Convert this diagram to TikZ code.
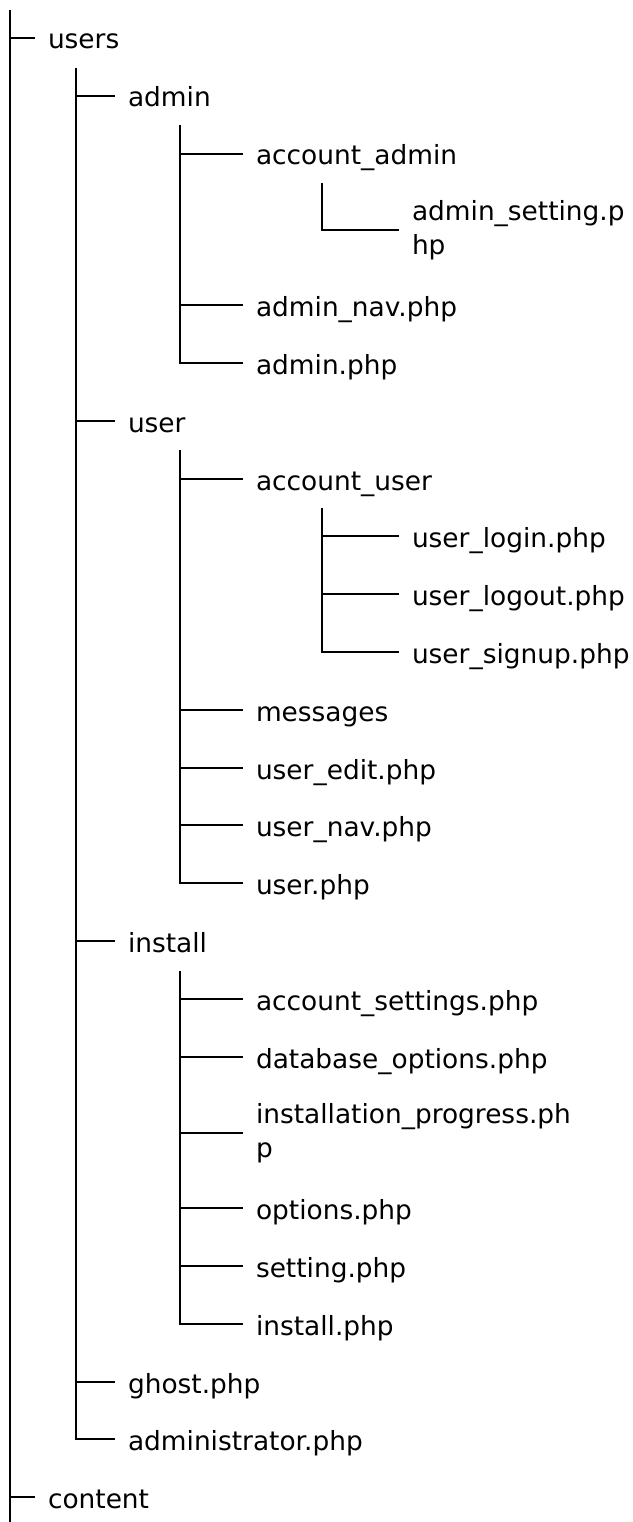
\documentclass[tikz,border=0pt]{standalone}
\usepackage{fontspec}
\setmainfont{DejaVu Sans}
\begin{document}
\begin{tikzpicture}[x=1pt,y=-1pt,
  every node/.style={font=\fontsize{26.4}{34}\selectfont},
  item/.style={anchor=west, inner sep=0pt, outer xsep=13pt, text height=28pt, text depth=6pt},
  twoline/.style={anchor=west, inner sep=0pt, outer xsep=13pt, align=left},
  branch/.style={draw=black, line width=2pt}]
\useasboundingbox (0,0) rectangle (632,1522);
% nodes
\node[item] (users) at (35,38) {users};
\node[item] (admin) at (115,96) {admin};
\node[item] (accadmin) at (243,154) {account\_admin};
\node[twoline] (adminset) at (399,230) {admin\_setting.p\\hp};
\node[item] (adminnav) at (243,305) {admin\_nav.php};
\node[item] (adminphp) at (243,363) {admin.php};
\node[item] (user) at (115,421) {user};
\node[item] (accuser) at (243,479) {account\_user};
\node[item] (login) at (399,536) {user\_login.php};
\node[item] (logout) at (399,594) {user\_logout.php};
\node[item] (signup) at (399,652) {user\_signup.php};
\node[item] (messages) at (243,710) {messages};
\node[item] (useredit) at (243,768) {user\_edit.php};
\node[item] (usernav) at (243,825) {user\_nav.php};
\node[item] (userphp) at (243,883) {user.php};
\node[item] (install) at (115,941) {install};
\node[item] (accset) at (243,999) {account\_settings.php};
\node[item] (dbopt) at (243,1057) {database\_options.php};
\node[twoline] (instprog) at (243,1133) {installation\_progress.ph\\p};
\node[item] (options) at (243,1208) {options.php};
\node[item] (setting) at (243,1266) {setting.php};
\node[item] (installphp) at (243,1324) {install.php};
\node[item] (ghost) at (115,1382) {ghost.php};
\node[item] (administrator) at (115,1439) {administrator.php};
\node[item] (content) at (35,1497) {content};
% branch origins
\coordinate (t0) at (10,10);
\coordinate (b0) at (10,1522);
\coordinate (pusers) at (76,68);
\coordinate (padmin) at (180,125);
\coordinate (paccadmin) at (322,183);
\coordinate (puser) at (180,450);
\coordinate (paccuser) at (322,508);
\coordinate (pinstall) at (180,971);
% connectors
\draw[branch] (t0) -- (b0);
\draw[branch] (t0 |- users.west) -- (users.west);
\draw[branch] (t0 |- content.west) -- (content.west);
\foreach \c in {admin,user,install,ghost,administrator}
  \draw[branch] (pusers) |- (\c.west);
\foreach \c in {accadmin,adminnav,adminphp}
  \draw[branch] (padmin) |- (\c.west);
\draw[branch] (paccadmin) |- (adminset.west);
\foreach \c in {accuser,messages,useredit,usernav,userphp}
  \draw[branch] (puser) |- (\c.west);
\foreach \c in {login,logout,signup}
  \draw[branch] (paccuser) |- (\c.west);
\foreach \c in {accset,dbopt,instprog,options,setting,installphp}
  \draw[branch] (pinstall) |- (\c.west);
\end{tikzpicture}
\end{document}
